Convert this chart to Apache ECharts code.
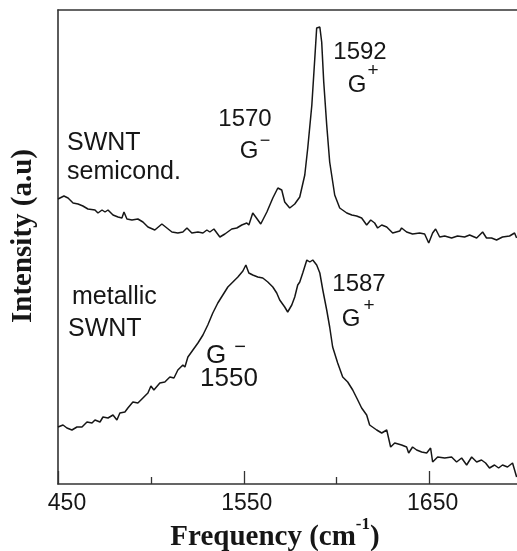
<!DOCTYPE html>
<html>
<head>
<meta charset="utf-8">
<script src="https://cdn.jsdelivr.net/npm/echarts@6/dist/echarts.min.js"></script>
<style>
html,body{margin:0;padding:0;background:#fff;}
#c{width:517px;height:551px;}
</style>
</head>
<body>
<div id="c"></div>
<script>
// Raman shift (cm^-1) and intensity (a.u.)
const semiFreq = [1450.0,1453.2,1455.4,1458.1,1460.8,1463.4,1466.1,1469.9,1471.5,1473.7,1475.3,1476.9,1479.6,1482.3,1484.4,1485.5,1487.1,1489.8,1493.0,1495.7,1498.4,1502.1,1505.9,1508.6,1511.3,1514.5,1517.2,1519.4,1522.0,1525.3,1528.0,1530.1,1531.7,1533.9,1537.1,1539.8,1543.5,1546.2,1548.9,1551.6,1552.7,1554.8,1556.4,1559.1,1562.4,1565.6,1568.3,1570.4,1572.0,1574.7,1577.4,1580.1,1582.8,1584.4,1586.6,1588.2,1589.2,1590.9,1591.9,1593.0,1594.6,1596.2,1598.9,1601.6,1605.4,1608.1,1610.7,1613.4,1616.1,1618.3,1620.4,1622.0,1624.2,1626.9,1630.1,1633.9,1634.9,1637.6,1640.8,1644.6,1647.3,1649.5,1651.6,1653.2,1655.4,1658.1,1661.8,1665.0,1668.8,1671.5,1675.3,1678.5,1680.6,1683.3,1686.0,1689.2,1693.0,1695.7,1696.8];
const semiInt = [285,288,286,281,280,278,275,274,271,274,272,274,269,267,266,272,265,264,265,262,257,254,260,256,252,251,252,256,251,252,251,254,252,255,247,250,255,256,259,261,259,271,267,260,272,286,296,294,282,276,280,287,309,336,379,426,456,457,442,402,359,322,289,276,271,269,268,266,259,264,261,256,259,257,251,253,256,252,250,251,250,241,251,255,247,248,246,248,247,249,246,252,246,246,244,247,248,251,246];

const metFreq = [1450.0,1452.7,1454.8,1457.5,1460.2,1462.9,1465.6,1468.3,1469.9,1472.6,1474.2,1476.9,1479.6,1481.7,1483.3,1486.0,1487.6,1490.3,1493.0,1495.7,1498.4,1500.0,1501.6,1504.8,1507.5,1510.2,1512.4,1514.5,1517.2,1518.3,1519.9,1522.6,1525.3,1528.0,1530.6,1533.3,1536.0,1538.7,1541.4,1544.1,1546.8,1549.5,1551.1,1552.7,1554.8,1557.5,1560.2,1562.9,1565.6,1567.7,1569.3,1572.0,1573.6,1575.8,1577.4,1579.0,1580.1,1581.7,1583.9,1585.5,1587.1,1589.2,1590.9,1592.5,1594.6,1596.2,1597.8,1600.5,1603.2,1605.9,1608.6,1611.3,1613.4,1616.1,1617.7,1621.5,1624.2,1626.9,1629.0,1631.2,1634.9,1637.6,1638.7,1640.8,1643.0,1645.7,1648.4,1650.5,1651.6,1654.3,1658.1,1661.8,1664.5,1667.2,1669.9,1672.6,1675.3,1677.9,1680.1,1682.2,1684.9,1687.1,1689.2,1691.9,1694.6,1696.8];
const metInt = [57,59,56,54,57,57,62,61,64,62,67,66,69,64,71,72,76,82,81,86,91,98,94,101,102,107,106,114,119,117,127,134,141,149,159,171,181,189,197,202,207,213,219,211,209,207,206,202,197,191,184,177,172,179,187,199,202,211,224,222,224,219,211,194,174,157,137,121,107,102,94,84,76,69,59,54,51,54,37,41,39,37,31,37,34,32,31,36,22,27,26,27,22,26,19,27,22,24,21,16,19,16,19,17,21,7];

const majorTicks = [1450, 1550, 1650];
const majorTickLabels = ['450', '1550', '1650'];
const minorTicks = [1500, 1600];

const SANS = '"Liberation Sans", Arial, sans-serif';
const SERIF = '"Liberation Serif", "Times New Roman", serif';
const INK = '#161616';

function zip(a, b) { return a.map((v, i) => [v, b[i]]); }

const chart = echarts.init(document.getElementById('c'), null, {renderer: 'canvas'});

function txt(text, x, y, size, opts) {
  opts = opts || {};
  return {
    type: 'text', x: x, y: y, rotation: opts.rotation || 0,
    style: {
      text: text,
      font: (opts.bold ? 'bold ' : '') + size + 'px ' + (opts.family || SANS),
      fill: INK,
      align: opts.align || 'center', verticalAlign: 'middle',
      textAlign: opts.align || 'center', textVerticalAlign: 'middle',
      rich: opts.rich
    }
  };
}

const option = {
  animation: false,
  backgroundColor: '#fff',
  grid: {left: 58, right: 0, top: 10, bottom: 67, containLabel: false},
  xAxis: [
    {
      type: 'value', min: 1450, max: 1697, position: 'bottom',
      axisLine: {show: true, onZero: false, lineStyle: {color: '#333', width: 1.6}},
      axisTick: {show: true, inside: true, length: 13, customValues: majorTicks, lineStyle: {color: '#333', width: 1.3}},
      axisLabel: {
        show: true, customValues: majorTicks, margin: 8,
        formatter: function (v) {
          const i = majorTicks.indexOf(v);
          const t = i >= 0 ? majorTickLabels[i] : '';
          return i === 0 ? '{s|' + t + '}' : '{n|' + t + '}';
        },
        rich: {
          s: {fontSize: 23, fontFamily: SANS, color: INK, padding: [0, 0, 0, 18]},
          n: {fontSize: 23, fontFamily: SANS, color: INK, padding: [0, 0, 0, 6]}
        }
      },
      splitLine: {show: false}
    },
    {
      type: 'value', min: 1450, max: 1697, position: 'bottom',
      axisLine: {show: false},
      axisTick: {show: true, inside: true, length: 7, customValues: minorTicks, lineStyle: {color: '#333', width: 1.3}},
      axisLabel: {show: false},
      splitLine: {show: false}
    },
    {
      type: 'value', min: 1450, max: 1697, position: 'top',
      axisLine: {show: true, onZero: false, lineStyle: {color: '#333', width: 1.6}},
      axisTick: {show: false}, axisLabel: {show: false}, splitLine: {show: false}
    }
  ],
  yAxis: {
    type: 'value', min: 0, max: 474, position: 'left',
    axisLine: {show: true, onZero: false, lineStyle: {color: '#333', width: 1.6}},
    axisTick: {show: false}, axisLabel: {show: false}, splitLine: {show: false}
  },
  series: [
    {type: 'line', name: 'SWNT semicond.', xAxisIndex: 0, data: zip(semiFreq, semiInt), symbol: 'none',
     lineStyle: {color: INK, width: 1.5}},
    {type: 'line', name: 'metallic SWNT', xAxisIndex: 0, data: zip(metFreq, metInt), symbol: 'none',
     lineStyle: {color: INK, width: 1.5}}
  ],
  graphic: [
    // semiconducting labels
    txt('SWNT', 67, 143, 25, {align: 'left'}),
    txt('semicond.', 67, 172, 25, {align: 'left'}),
    txt('1570', 245, 119, 24),
    txt('G', 249, 151, 24),
    txt('\u2212', 265, 141, 18),
    txt('1592', 360, 52, 24),
    txt('G', 357, 85, 24),
    txt('+', 373, 71, 19),
    // metallic labels
    txt('metallic', 72, 297, 25, {align: 'left'}),
    txt('SWNT', 68, 329, 25, {align: 'left'}),
    txt('G', 216, 356, 26),
    txt('\u2212', 240, 347, 20),
    txt('1550', 229, 379, 26),
    txt('1587', 359, 284, 24),
    txt('G', 351, 319, 24),
    txt('+', 369, 306, 19),
    // axis titles
    {
      type: 'text', x: 275, y: 538,
      style: {
        text: '{a|Frequency (cm}{s|-1}{a|)}',
        align: 'center', verticalAlign: 'middle', textAlign: 'center', textVerticalAlign: 'middle',
        rich: {
          a: {font: 'bold 29px ' + SERIF, fill: INK, color: INK, lineHeight: 44},
          s: {font: 'bold 17px ' + SERIF, fill: INK, color: INK, lineHeight: 17, verticalAlign: 'top'}
        }
      }
    },
    txt('Intensity (a.u)', 24, 236, 29, {bold: true, family: SERIF, rotation: Math.PI / 2})
  ]
};
chart.setOption(option);
</script>
</body>
</html>
